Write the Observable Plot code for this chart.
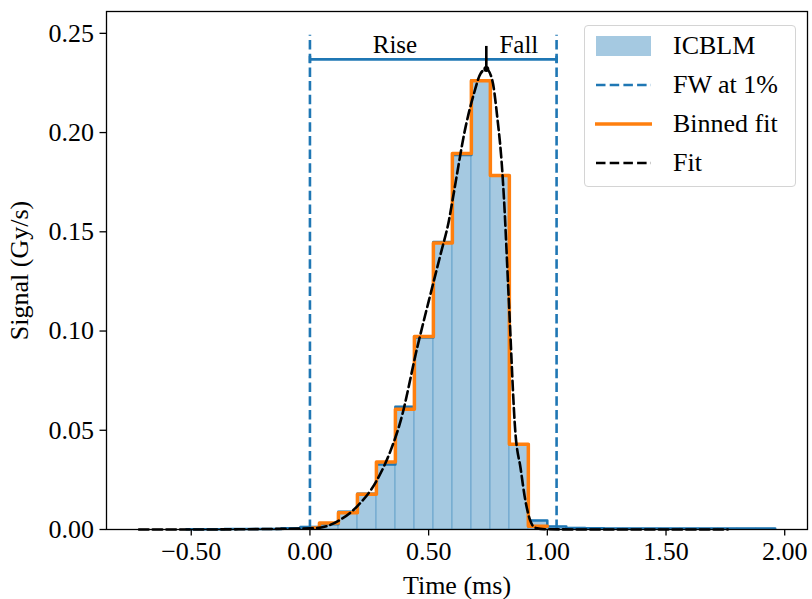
<!DOCTYPE html>
<html>
<head>
<meta charset="utf-8">
<script src="https://cdn.jsdelivr.net/npm/d3@7"></script>
<script src="https://cdn.jsdelivr.net/npm/@observablehq/plot@0.6"></script>
<style>
  body { margin: 0; background: #fff; }
  #wrap { position: relative; width: 812px; height: 599px; font-family: "Liberation Serif", "Times New Roman", serif; }
  #legend { position: absolute; left: 584px; top: 25px; width: 212px; height: 162px; box-sizing: border-box;
            border: 1px solid #d4d4d4; border-radius: 4px; background: rgba(255,255,255,0.8); }
  .item { position: absolute; left: 10px; height: 30px; display: flex; align-items: center; font-size: 26px; color: #000; white-space: nowrap; }
  .item svg { width: 58px; height: 24px; margin-right: 20px; flex: none; }
</style>
</head>
<body>
<div id="wrap"><div id="chart"></div><div id="legend"></div></div>
<script>
// ---- data ----
const binStart = -0.52;      // left edge of first ICBLM bin (ms)
const binWidth = 0.08;       // bin width (ms)
const icblmSignal = [
  0.0001, 0.0001, 0.0002, 0.0002, 0.0003, 0.0006, 0.0013,
  0.0027, 0.0089, 0.0180, 0.0328, 0.0618, 0.0968, 0.1448, 0.1887, 0.2264, 0.1784, 0.0430, 0.0045,
  0.0015, 0.0008, 0.0006,
  0.0005, 0.0005, 0.0005, 0.0005, 0.0005, 0.0005, 0.0005, 0.0005, 0.0005
];
const binnedFitTimes  = [0.00, 0.04, 0.12, 0.20, 0.28, 0.36, 0.44, 0.52, 0.60, 0.68, 0.76, 0.84, 0.92];
const binnedFitSignal = [0.0008, 0.0033, 0.0084, 0.0177, 0.0340, 0.0606, 0.0973, 0.1443, 0.1894, 0.2261, 0.1784, 0.0429, 0.0017];
const binnedFitEnd = 1.00;
const fitTime   = [-0.72, -0.50, -0.30, -0.15, 0.00, 0.037, 0.122, 0.20, 0.28, 0.339, 0.382, 0.452, 0.515, 0.551, 0.586, 0.603, 0.656, 0.691, 0.719, 0.743, 0.768, 0.789, 0.810, 0.817, 0.838, 0.866, 0.887, 0.908, 0.929, 0.950, 1.00, 1.20, 1.50, 1.76];
const fitSignal = [0, 0, 0.0001, 0.0003, 0.0006, 0.0008, 0.0045, 0.0118, 0.0244, 0.0395, 0.0547, 0.0917, 0.1220, 0.1390, 0.1560, 0.1675, 0.2030, 0.2197, 0.2298, 0.2320, 0.2264, 0.2079, 0.1810, 0.1675, 0.1150, 0.0480, 0.0311, 0.0143, 0.0042, 0.0008, 0.0001, 0, 0, 0];
const fwStart = 0.0, fwEnd = 1.039;       // full width at 1% (ms)
const fwLevel = 0.2369;                   // level of the span bar
const fwLineTop = 0.249;                  // top of the dashed FW lines
const peakTime = 0.743, peakSignal = 0.232, peakTickTop = 0.2434;
const spanLabels = ["Rise", "Fall"];
const spanLabelTimes = [0.358, 0.88];
const spanLabelSignal = 0.2403;
const xTicks = [-0.5, 0, 0.5, 1, 1.5, 2];
const yTicks = [0, 0.05, 0.10, 0.15, 0.20, 0.25];
const legendLabels = ["ICBLM", "FW at 1%", "Binned fit", "Fit"];

// ---- derived tables ----
const C0 = "#1f77b4", C1 = "#ff7f0e";
const bins = icblmSignal.map((v, i) => ({x1: binStart + i * binWidth, x2: binStart + (i + 1) * binWidth, y: v}));
const icblmStep = bins.map(d => ({x: d.x1, y: d.y})).concat([{x: bins[bins.length - 1].x2, y: bins[bins.length - 1].y}]);
const binnedRows = binnedFitTimes.map((t, i) => ({x: t, y: binnedFitSignal[i]}))
  .concat([{x: binnedFitEnd, y: binnedFitSignal[binnedFitSignal.length - 1]}]);
const fitRows = fitTime.map((t, i) => ({x: t, y: fitSignal[i]}));
const capRows = [fwStart, fwEnd].map(t => ({x: t, y: fwLevel}));
const labelRows = spanLabels.map((s, i) => ({x: spanLabelTimes[i], y: spanLabelSignal, text: s}));
const fmt = d => d.toFixed(2).replace("-", "\u2212");
const capSymbol = {draw(ctx, size) { const h = Math.sqrt(size / Math.PI); ctx.moveTo(0, -h); ctx.lineTo(0, h); }};
const dash = "9.5,4.2";

const chart = Plot.plot({
  width: 812, height: 599,
  marginLeft: 106, marginRight: 5, marginTop: 11, marginBottom: 70,
  style: {fontFamily: "'Liberation Serif', 'Times New Roman', serif", fontSize: "26px", background: "white", color: "black"},
  x: {domain: [-0.857, 2.096]},
  y: {domain: [0, 0.261]},
  marks: [
    Plot.rectY(bins, {x1: "x1", x2: "x2", y: "y", fill: C0, fillOpacity: 0.4, stroke: C0, strokeOpacity: 0.25, strokeWidth: 1.2}),
    Plot.line(icblmStep, {x: "x", y: "y", curve: "step-after", stroke: C0, strokeWidth: 2.5}),
    Plot.line(binnedRows, {x: "x", y: "y", curve: "step-after", stroke: C1, strokeWidth: 3.5}),
    Plot.ruleX([fwStart, fwEnd], {y1: 0, y2: fwLineTop, stroke: C0, strokeWidth: 2.6, strokeDasharray: dash}),
    Plot.line(fitRows, {x: "x", y: "y", curve: "monotone-x", stroke: "black", strokeWidth: 2.6, strokeDasharray: dash}),
    Plot.ruleY([fwLevel], {x1: fwStart, x2: fwEnd, stroke: C0, strokeWidth: 2.6}),
    Plot.dot(capRows, {x: "x", y: "y", symbol: capSymbol, r: 3.5, stroke: C0, strokeWidth: 2.6}),
    Plot.ruleX([peakTime], {y1: peakSignal, y2: peakTickTop, stroke: "black", strokeWidth: 2.6}),
    Plot.dot([{x: peakTime, y: peakSignal}], {x: "x", y: "y", r: 3, fill: "black"}),
    Plot.text(labelRows, {x: "x", y: "y", text: "text", fontSize: 25, lineAnchor: "bottom", textAnchor: "middle", fill: "black"}),
    Plot.axisX({ticks: xTicks, tickFormat: fmt, tickSize: 6.5, tickPadding: 6, strokeWidth: 1.3, fontSize: 26,
                label: "Time (ms)", labelAnchor: "center", labelOffset: 64, labelArrow: "none"}),
    Plot.axisY({ticks: yTicks, tickFormat: fmt, tickSize: 6.5, tickPadding: 6, strokeWidth: 1.3, fontSize: 26,
                label: "Signal (Gy/s)", labelAnchor: "center", labelOffset: 97, labelArrow: "none"}),
    Plot.frame({stroke: "black", strokeWidth: 1.3})
  ]
});
document.getElementById("chart").appendChild(chart);

// ---- legend (overlay) ----
const swatches = [
  `<svg viewBox="0 0 58 24"><rect x="1" y="2" width="55" height="20" fill="${C0}" fill-opacity="0.4"/></svg>`,
  `<svg viewBox="0 0 58 24"><line x1="1" x2="56" y1="12" y2="12" stroke="${C0}" stroke-width="2.6" stroke-dasharray="${dash}"/></svg>`,
  `<svg viewBox="0 0 58 24"><line x1="0" x2="57" y1="12" y2="12" stroke="${C1}" stroke-width="3.5"/></svg>`,
  `<svg viewBox="0 0 58 24"><line x1="1" x2="56" y1="12" y2="12" stroke="black" stroke-width="2.6" stroke-dasharray="${dash}"/></svg>`
];
const legendCenters = [20, 58.5, 97.5, 136.5];
const legend = document.getElementById("legend");
legendLabels.forEach((lab, i) => {
  const div = document.createElement("div");
  div.className = "item";
  div.style.top = (legendCenters[i] - 15) + "px";
  div.innerHTML = swatches[i] + `<span>${lab}</span>`;
  legend.appendChild(div);
});
</script>
</body>
</html>
